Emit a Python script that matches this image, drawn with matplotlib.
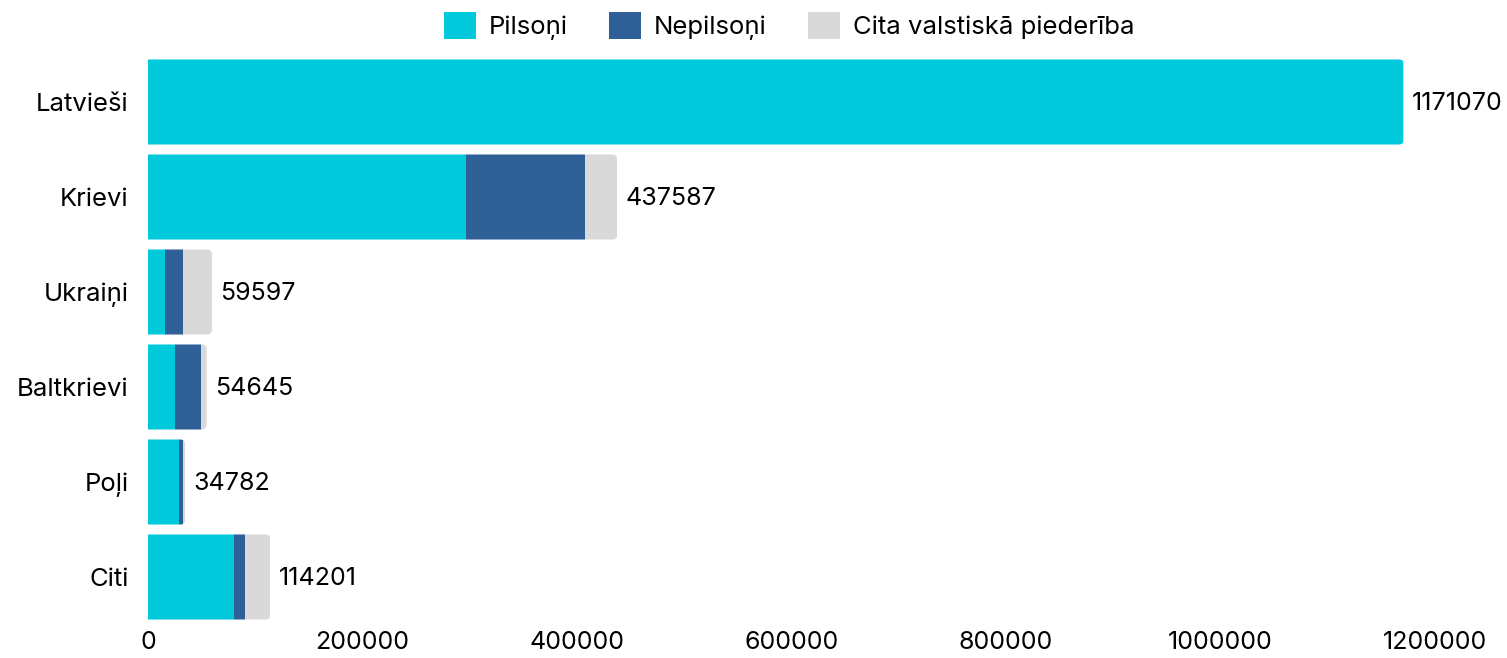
import numpy as np
import matplotlib.pyplot as plt
from matplotlib.patches import FancyBboxPatch, Patch

# Data
groups = ["Latvieši", "Krievi", "Ukraiņi", "Baltkrievi", "Poļi", "Citi"]
pilsoni = [1170000, 296500, 16000, 25500, 28500, 80500]
nepilsoni = [500, 111000, 16800, 24000, 4500, 10200]
cita = [570, 30087, 26797, 5145, 1782, 23501]
series_names = ["Pilsoņi", "Nepilsoņi", "Cita valstiskā piederība"]
colors = ["#00C9DB", "#2E5F96", "#D9D9D9"]
ticks = [0, 200000, 400000, 600000, 800000, 1000000, 1200000]

plt.rcParams['font.family'] = ['Inter', 'DejaVu Sans']
fs_num = 18
fs_txt = 18.5

W, H = 1507, 658
fig = plt.figure(figsize=(W / 100, H / 100), dpi=100)
ax = fig.add_axes([148 / W, (H - 624.5) / H, (1435 - 148) / W, 570 / H])

y = np.arange(len(groups))
bar_h = 0.895
px_x = 1200000 / (1435 - 148)   # data units per pixel (x)
px_y = 1 / 95                    # data units per pixel (y)
r = 5 * px_x

for i in range(len(groups)):
    total = pilsoni[i] + nepilsoni[i] + cita[i]
    # rounded outline used to clip the stacked segments (right end rounded)
    clip = FancyBboxPatch((-3 * r, y[i] - bar_h / 2), total + 3 * r, bar_h,
                          boxstyle=f"round,pad=0,rounding_size={r}",
                          mutation_aspect=px_y / px_x,
                          facecolor="none", edgecolor="none")
    ax.add_patch(clip)
    left = 0
    for vals, c in zip([pilsoni, nepilsoni, cita], colors):
        b = ax.barh(y[i], vals[i], left=left, height=bar_h, color=c, linewidth=0)
        for p in b:
            p.set_clip_path(clip)
        left += vals[i]
    ax.text(total + 8 * px_x, y[i] + 0.02, str(total), va="center", ha="left",
            fontsize=fs_num, color="black", clip_on=False)

ax.set_xlim(0, 1200000)
ax.set_ylim(len(groups) - 0.5, -0.5)
ax.set_yticks(y)
ax.set_yticklabels(groups, fontsize=fs_txt)
ax.set_xticks(ticks)
ax.set_xticklabels([str(t) for t in ticks], fontsize=fs_num)
ax.tick_params(axis="y", length=0, pad=14)
ax.tick_params(axis="x", length=0, pad=5)
for s in ax.spines.values():
    s.set_visible(False)

handles = [Patch(facecolor=c, edgecolor="none") for c in colors]
fig.legend(handles, series_names, loc="center", bbox_to_anchor=(789 / W, 1 - 26 / H),
           ncol=3, frameon=False, fontsize=fs_txt, handlelength=1.25, handleheight=1.25,
           handletextpad=0.5, columnspacing=1.6)

fig.savefig("out.png", dpi=100)
